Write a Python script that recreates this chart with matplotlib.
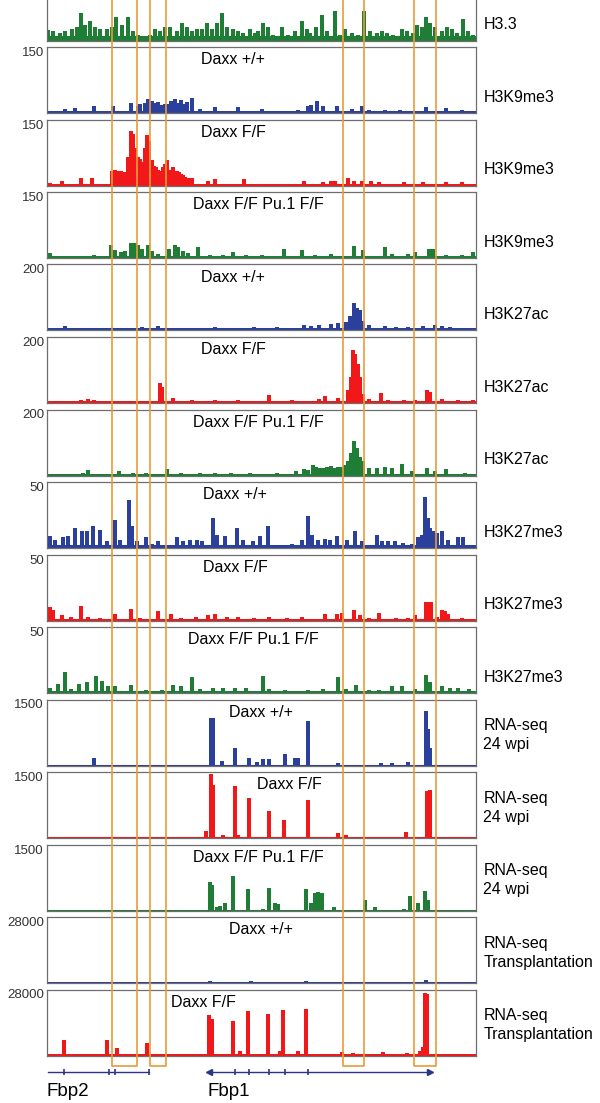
import matplotlib
matplotlib.use("Agg")
import matplotlib.pyplot as plt

plt.rcParams['font.family'] = ['Liberation Sans', 'DejaVu Sans']

# -------------------------
# Data: positions in kb along the locus, heights in track units
# -------------------------

h33_pos = [0.1, 0.6, 1.3, 1.8, 2.5, 3.0, 3.4, 3.8, 4.3, 4.8, 5.3, 6.0, 6.5, 6.9, 7.5, 8.1, 8.6, 9.1, 9.6, 10.3,
           10.8, 11.3, 11.8, 12.3, 13.0, 13.5, 14.0, 14.5, 15.0, 15.5, 16.0, 16.5, 17.0, 17.5, 18.0, 18.6, 19.1, 19.6,
           20.3, 20.8, 21.1, 21.6, 22.1, 22.6, 23.5, 24.1, 24.8, 25.5, 26.0, 26.3, 26.9, 27.5, 28.0, 28.8, 29.3, 29.8,
           30.5, 31.1, 31.7, 32.3, 33.0, 33.5, 34.0, 34.6, 35.5, 36.0, 36.6, 37.0, 37.5, 37.9, 38.3, 38.8, 39.5, 40.0,
           40.5, 41.0, 41.6, 42.1, 42.6]
h33_val = [16, 14, 12, 15, 18, 20, 42, 24, 30, 21, 18, 18, 21, 35, 23, 35, 15, 8, 6, 9,
           18, 15, 20, 21, 15, 26, 20, 14, 17, 18, 26, 17, 26, 42, 21, 18, 14, 11,
           17, 12, 15, 26, 20, 9, 20, 8, 15, 29, 17, 11, 21, 39, 15, 45, 9, 18,
           12, 8, 44, 15, 12, 14, 12, 8, 18, 15, 12, 24, 21, 35, 26, 21, 15, 20,
           17, 12, 32, 15, 9]

k9_wt_pos = [1.8, 2.8, 4.7, 6.6, 8.4, 9.1, 9.3, 9.8, 10.1, 10.5, 10.8, 11.1, 11.5, 11.8, 12.1, 12.4, 12.8, 13.1,
             13.4, 13.7, 14.0, 14.5, 15.3, 16.8, 19.1, 21.5, 25.1, 26.1, 26.4, 27.0, 27.6, 29.0, 30.5, 31.5, 32.2,
             33.8, 35.3, 37.9, 39.9, 41.5]
k9_wt_val = [9, 11, 16, 16, 23, 16, 20, 23, 32, 27, 23, 25, 18, 20, 20, 27, 32, 23,
             30, 20, 25, 34, 9, 14, 14, 9, 7, 16, 18, 27, 16, 16, 9, 16, 7,
             7, 7, 14, 11, 7]

k9_ff_pos = [0.3, 1.5, 3.4, 4.5, 6.5, 6.8, 7.1, 7.4, 7.8, 8.1, 8.4, 8.6, 8.8, 9.1, 9.3, 9.6, 9.8, 10.0, 10.2,
             10.5, 10.7, 10.9, 11.1, 11.3, 11.6, 11.8, 12.0, 12.2, 12.4, 12.6, 12.8, 13.0, 13.2, 13.4, 13.6, 13.8,
             14.1, 14.3, 14.5, 16.1, 16.8, 19.7, 25.7, 27.6, 28.4, 28.8, 30.1, 30.7, 31.5, 32.4, 33.2, 35.7, 37.6,
             39.9, 41.5]
k9_ff_val = [6, 11, 16, 16, 32, 36, 34, 34, 30, 64, 125, 118, 86, 64, 61, 54, 86, 114, 102,
             57, 45, 41, 36, 34, 41, 50, 57, 34, 36, 41, 34, 32, 30, 27, 23, 20,
             18, 18, 18, 11, 14, 14, 11, 7, 11, 11, 18, 11, 11, 11, 9, 7, 7,
             7, 7]

k9_pu1_pos = [0.3, 2.2, 4.7, 6.4, 6.8, 7.4, 7.8, 8.4, 8.8, 9.1, 9.5, 10.1, 10.5, 11.1, 12.2, 12.8, 13.1, 13.6,
              14.1, 15.1, 16.3, 17.6, 18.6, 19.9, 21.5, 23.7, 25.5, 26.8, 28.4, 30.7, 31.6, 33.8, 34.5, 36.1,
              36.8, 38.2, 38.6, 39.9, 41.5, 42.6]
k9_pu1_val = [11, 5, 7, 30, 18, 14, 16, 34, 34, 30, 20, 30, 16, 9, 20, 30, 25, 16,
              11, 25, 7, 7, 14, 7, 7, 20, 18, 7, 9, 27, 18, 25, 9, 9,
              14, 20, 20, 7, 7, 14]

k27ac_wt_pos = [1.8, 3.4, 5.3, 7.2, 9.5, 11.1, 13.4, 15.3, 16.8, 19.1, 20.7, 23.0, 25.7, 26.4, 27.2, 28.4,
                29.1, 29.9, 30.3, 30.7, 31.0, 31.3, 31.6, 32.2, 33.8, 34.9, 36.1, 37.6, 38.8, 39.5, 40.3, 41.5]
k27ac_wt_val = [15, 9, 9, 9, 12, 15, 9, 9, 12, 9, 12, 12, 18, 15, 18, 21,
                24, 27, 45, 82, 67, 61, 30, 18, 15, 12, 12, 15, 18, 15, 12, 9]

k27ac_ff_pos = [1.5, 3.4, 4.1, 4.7, 6.8, 8.8, 11.3, 11.5, 12.6, 14.5, 16.8, 19.1, 22.2, 24.5, 27.2, 27.8,
                29.1, 30.1, 30.4, 30.6, 30.8, 31.1, 31.3, 31.6, 32.2, 33.4, 34.1, 35.7, 36.8, 38.0, 38.3, 39.5,
                41.1, 42.6]
k27ac_ff_val = [6, 9, 12, 9, 6, 6, 61, 48, 15, 9, 9, 9, 24, 9, 12, 21,
                15, 39, 79, 161, 148, 118, 79, 27, 12, 30, 9, 9, 9, 39, 33, 12,
                9, 9]

k27ac_pu1_pos = [3.6, 4.1, 5.5, 7.2, 8.6, 9.9, 12.0, 13.4, 15.3, 16.8, 18.4, 20.3, 23.0, 24.9, 25.7, 26.1,
                 26.6, 26.9, 27.2, 27.6, 28.0, 28.4, 28.8, 29.1, 29.5, 29.8, 30.1, 30.4, 30.7, 31.0, 31.3, 31.6,
                 32.2, 33.0, 33.8, 34.5, 35.5, 36.5, 38.0, 38.8, 39.9, 41.8]
k27ac_pu1_val = [9, 18, 6, 15, 9, 9, 21, 9, 9, 9, 9, 9, 9, 15, 21, 18,
                 33, 27, 24, 24, 27, 30, 24, 27, 27, 33, 45, 67, 106, 82, 55, 45,
                 24, 24, 27, 24, 36, 15, 24, 15, 21, 9]

k27me3_wt_pos = [0.3, 0.8, 1.6, 2.1, 2.8, 3.5, 4.0, 4.6, 5.3, 6.0, 6.8, 7.3, 8.2, 8.5, 9.0, 9.9, 10.5, 11.1,
                 11.8, 13.0, 13.6, 14.3, 15.0, 15.5, 16.6, 17.0, 17.8, 19.0, 19.6, 20.6, 21.3, 22.1, 22.8, 23.5,
                 24.5, 25.5, 26.1, 26.5, 27.1, 27.8, 28.3, 29.0, 30.0, 30.8, 31.5, 33.0, 33.5, 34.1, 34.8, 35.6,
                 36.5, 37.1, 37.5, 37.8, 38.1, 38.3, 38.6, 39.0, 39.5, 40.1, 41.1, 41.6, 42.5]
k27me3_wt_val = [9, 6, 8, 9, 15, 13, 13, 17, 14, 5, 21, 6, 36, 17, 5, 8, 3, 5,
                 2, 8, 5, 6, 6, 5, 23, 10, 9, 15, 6, 5, 9, 17, 2, 2,
                 3, 6, 24, 10, 6, 7, 6, 9, 6, 13, 5, 10, 5, 5, 5, 4,
                 3, 8, 10, 39, 23, 15, 13, 11, 13, 6, 8, 8, 2]

k27me3_ff_pos = [0.3, 0.6, 1.5, 2.4, 3.4, 4.1, 5.3, 6.8, 8.4, 9.3, 11.1, 12.4, 13.4, 14.9, 16.1, 16.8, 18.0,
                 19.1, 20.7, 22.2, 24.0, 25.5, 27.8, 29.0, 29.5, 30.7, 31.3, 32.2, 33.2, 34.9, 36.1, 36.8, 37.9,
                 38.2, 38.4, 39.0, 39.5, 39.8, 40.1, 41.5]
k27me3_ff_val = [10, 8, 4, 3, 11, 3, 2, 5, 9, 2, 7, 5, 2, 3, 4, 5, 3,
                 3, 2, 3, 2, 3, 5, 5, 6, 8, 4, 2, 6, 2, 2, 4, 14,
                 14, 14, 3, 8, 7, 5, 2]

k27me3_pu1_pos = [0.3, 1.1, 1.8, 2.4, 3.2, 4.0, 4.9, 5.5, 6.1, 6.8, 8.4, 9.9, 11.5, 12.6, 13.4, 14.5, 15.3,
                  16.6, 17.6, 18.8, 19.9, 21.6, 22.2, 23.8, 26.1, 27.6, 29.1, 29.9, 30.9, 32.2, 33.2, 34.5, 35.5,
                  36.8, 37.9, 38.3, 39.5, 40.3, 41.1, 42.2]
k27me3_pu1_val = [4, 7, 16, 3, 7, 8, 13, 9, 5, 5, 6, 2, 2, 6, 5, 12, 3,
                  4, 4, 4, 4, 13, 3, 2, 2, 3, 12, 3, 6, 2, 2, 5, 5,
                  3, 14, 8, 5, 4, 4, 3]

rna_wt_pos = [4.7, 16.4, 16.6, 17.5, 18.8, 20.2, 21.0, 21.6, 22.2, 23.8, 24.8, 25.1, 26.1, 29.1, 33.4, 34.5,
              36.1, 37.9, 38.1, 38.3]
rna_wt_val = [160, 1090, 1070, 110, 390, 160, 90, 140, 140, 270, 160, 160, 1020, 50, 50, 50,
              90, 1230, 840, 390]

rna_ff_pos = [15.9, 16.4, 16.6, 17.6, 18.8, 19.1, 20.2, 22.2, 23.7, 26.1, 29.1, 29.9, 35.9, 38.0, 38.3]
rna_ff_val = [160, 1450, 1200, 70, 1180, 70, 910, 610, 410, 860, 110, 70, 140, 1070, 1090]

rna_pu1_pos = [16.3, 16.5, 17.0, 17.3, 17.8, 18.6, 20.1, 21.6, 22.2, 22.8, 23.1, 25.9, 26.4, 26.8, 27.1, 27.5,
               28.7, 31.8, 32.8, 35.7, 36.3, 37.1, 37.8, 38.1]
rna_pu1_val = [640, 590, 90, 110, 180, 790, 500, 25, 520, 160, 140, 480, 160, 390, 430, 390,
               90, 250, 90, 45, 320, 160, 450, 250]

tx_wt_pos = [16.3, 18.3, 19.0, 20.4, 22.0, 23.5, 25.9, 33.0, 37.9]
tx_wt_val = [640, 420, 420, 640, 420, 420, 640, 420, 1270]

tx_ff_pos = [1.7, 6.0, 7.0, 10.0, 16.2, 16.5, 18.6, 19.3, 20.1, 22.1, 23.3, 23.6, 25.1, 25.9, 29.5, 30.6,
             33.6, 36.0, 37.3, 37.6, 37.8, 38.0]
tx_ff_val = [6400, 6400, 3000, 5500, 17000, 15300, 14800, 2100, 18700, 17400, 1700, 19100, 1700, 19900, 1300, 900,
             1300, 900, 1700, 3400, 26700, 25900]

track_pos = [h33_pos, k9_wt_pos, k9_ff_pos, k9_pu1_pos, k27ac_wt_pos, k27ac_ff_pos, k27ac_pu1_pos,
             k27me3_wt_pos, k27me3_ff_pos, k27me3_pu1_pos, rna_wt_pos, rna_ff_pos, rna_pu1_pos, tx_wt_pos, tx_ff_pos]
track_val = [h33_val, k9_wt_val, k9_ff_val, k9_pu1_val, k27ac_wt_val, k27ac_ff_val, k27ac_pu1_val,
             k27me3_wt_val, k27me3_ff_val, k27me3_pu1_val, rna_wt_val, rna_ff_val, rna_pu1_val, tx_wt_val, tx_ff_val]

# background level of each track
floors = [7.5, 4.5, 4.5, 4.5, 7.5, 6, 6, 2.3, 1.5, 1.5, 0, 0, 0, 0, 600]
y_max = [100, 150, 150, 150, 200, 200, 200, 50, 50, 50, 1500, 1500, 1500, 28000, 28000]
samples = [None, "Daxx +/+", "Daxx F/F", "Daxx F/F Pu.1 F/F",
           "Daxx +/+", "Daxx F/F", "Daxx F/F Pu.1 F/F",
           "Daxx +/+", "Daxx F/F", "Daxx F/F Pu.1 F/F",
           "Daxx +/+", "Daxx F/F", "Daxx F/F Pu.1 F/F",
           "Daxx +/+", "Daxx F/F"]
marks = ["H3.3", "H3K9me3", "H3K9me3", "H3K9me3", "H3K27ac", "H3K27ac", "H3K27ac",
         "H3K27me3", "H3K27me3", "H3K27me3", "RNA-seq\n24 wpi", "RNA-seq\n24 wpi", "RNA-seq\n24 wpi",
         "RNA-seq\nTransplantation", "RNA-seq\nTransplantation"]

# highlighted regions (kb)
box_left = [6.5, 10.3, 29.6, 36.7]
box_right = [9.0, 11.9, 31.7, 38.9]

# gene models (kb)
fbp2_span = (0.1, 10.2)
fbp2_exons = [1.7, 6.2, 6.8, 10.2]
fbp1_span = (16.2, 38.3)
fbp1_exons = [18.8, 20.2, 22.2, 23.8, 26.1]

# -------------------------
# Layout / style
# -------------------------
W, H = 600, 1103
x0_px, w_px = 47, 429
pitch, panel_h, first_top = 72.5, 66, -25.5
locus_len = 42.9
title_x = [None, 18.6, 18.6, 21.1, 18.6, 18.6, 21.1, 18.8, 18.8, 20.6, 21.4, 24.2, 21.1, 21.4, 15.6]

GREEN, BLUE, RED = "#1f7d36", "#2a409c", "#f01818"
colors = [GREEN, BLUE, RED] * 5
ORANGE = "#e89c3a"
NAVY = "#2b3585"

fig = plt.figure(figsize=(W / 100, H / 100), dpi=100)

for k in range(15):
    top = first_top + pitch * k
    ax = fig.add_axes([x0_px / W, 1 - (top + panel_h) / H, w_px / W, panel_h / H])
    c = colors[k]
    ax.fill_between([0, locus_len], 0, floors[k], color=c, lw=0)
    bw = 0.35 if k >= 10 else 0.45
    ax.bar(track_pos[k], track_val[k], width=bw, color=c, linewidth=0)
    ax.axhline(0, color=c, lw=2.2)
    ax.set_xlim(0, locus_len)
    ax.set_ylim(0, y_max[k])
    ax.set_xticks([])
    ax.set_yticks([])
    for s in ax.spines.values():
        s.set_color("#6e6e6e")
        s.set_linewidth(0.9)

    if k > 0:
        ax.text(-0.007, 1.0, str(y_max[k]), transform=ax.transAxes, ha="right", va="top",
                fontsize=9.5, color="#333333")
        ax.text(title_x[k], y_max[k] * 0.81, samples[k], ha="center", va="center", fontsize=11.5)

    if "\n" in marks[k]:
        ax.text(1.017, 0.46, marks[k], transform=ax.transAxes, ha="left", va="center",
                fontsize=11.5, linespacing=1.35)
    else:
        ax.text(1.017, 0.24, marks[k], transform=ax.transAxes, ha="left", va="center", fontsize=11.5)

# overlay in pixel rows for highlight boxes and gene models
ov = fig.add_axes([x0_px / W, 0, w_px / W, 1], zorder=10)
ov.set_xlim(0, locus_len)
ov.set_ylim(H, 0)
ov.axis("off")
ov.patch.set_alpha(0)

box_bottom = 1066
for l, r in zip(box_left, box_right):
    ov.plot([l, l, r, r], [0, box_bottom, box_bottom, 0], color=ORANGE, lw=1.2, clip_on=False)

gene_y = 1072
for span, exons in [(fbp2_span, fbp2_exons), (fbp1_span, fbp1_exons)]:
    ov.plot(span, [gene_y, gene_y], color=NAVY, lw=1.0)
    ov.plot(exons, [gene_y] * len(exons), ls="none", marker="|", ms=5, mew=1.2, color=NAVY)
ov.plot(fbp1_span[0], gene_y, marker="<", ms=4, color=NAVY)
ov.plot(fbp1_span[1], gene_y, marker=">", ms=4, color=NAVY)

ov.text(fbp2_span[0] - 0.1, 1091, "Fbp2", ha="left", va="center", fontsize=13.5)
ov.text(fbp1_span[0] - 0.1, 1091, "Fbp1", ha="left", va="center", fontsize=13.5)

fig.savefig("out.png", dpi=100)
